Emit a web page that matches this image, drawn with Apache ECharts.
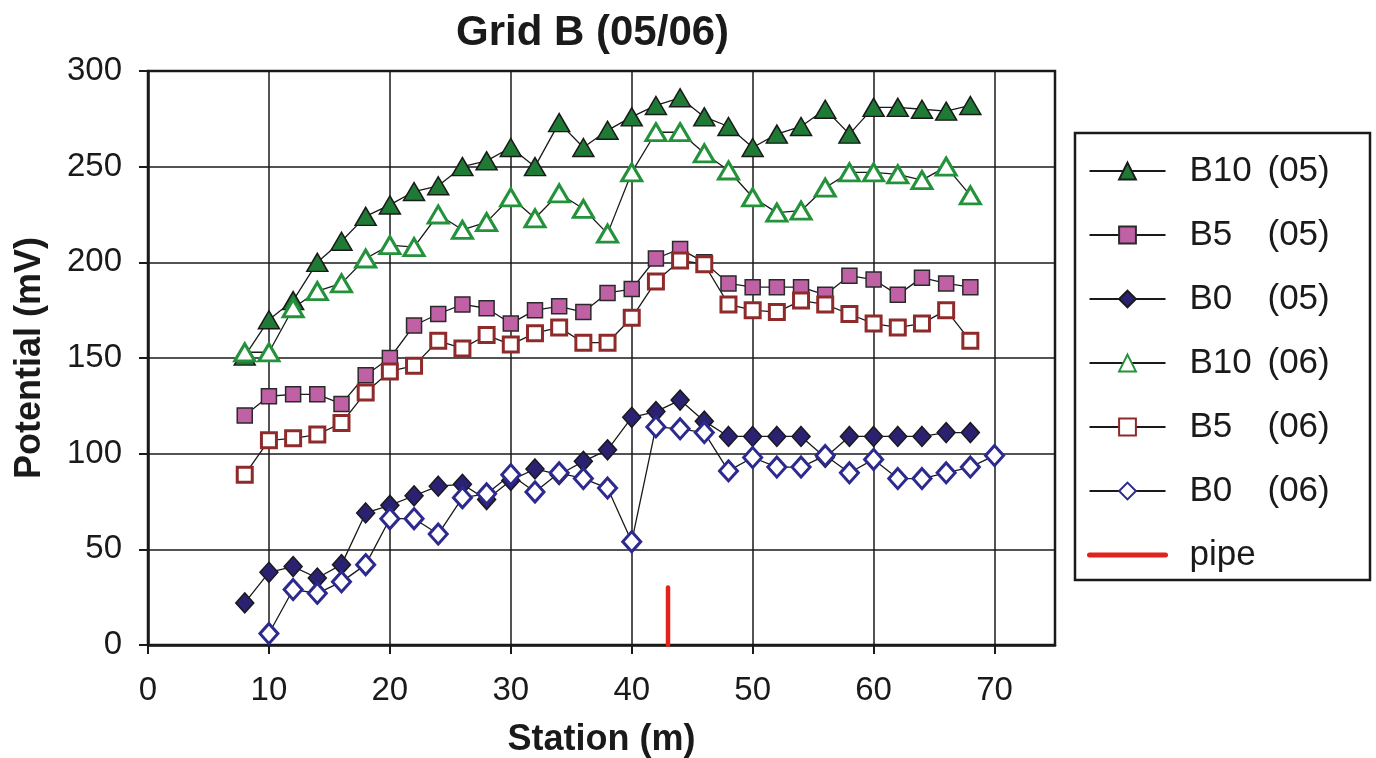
<!DOCTYPE html>
<html>
<head>
<meta charset="utf-8">
<script src="https://cdn.jsdelivr.net/npm/echarts@6/dist/echarts.min.js"></script>
<style>
  html, body { margin: 0; padding: 0; background: #fff; }
  #chart { width: 1376px; height: 758px; }
</style>
</head>
<body>
<div id="chart"></div>
<script>
// station positions (m)
var stations = [8, 10, 12, 14, 16, 18, 20, 22, 24, 26, 28, 30, 32, 34, 36, 38, 40, 42, 44, 46, 48, 50, 52, 54, 56, 58, 60, 62, 64, 66, 68];
var stationsB0_06 = [10, 12, 14, 16, 18, 20, 22, 24, 26, 28, 30, 32, 34, 36, 38, 40, 42, 44, 46, 48, 50, 52, 54, 56, 58, 60, 62, 64, 66, 68, 70];

// potentials (mV)
var b10_05 = [151, 170, 180, 200, 211, 224, 230, 237, 240, 250, 253, 260, 250, 273, 260, 269, 276, 282, 286, 276, 271, 260, 267, 271, 280, 267, 281, 281, 280, 279, 282];
var b5_05 = [120, 130, 131, 131, 126, 141, 150, 167, 173, 178, 176, 168, 175, 177, 174, 184, 186, 202, 207, 200, 189, 187, 187, 187, 183, 193, 191, 183, 192, 189, 187];
var b0_05 = [22, 38, 41, 35, 42, 69, 73, 78, 83, 84, 76, 86, 92, 89, 96, 102, 119, 122, 128, 117, 109, 109, 109, 109, 98, 109, 109, 109, 109, 111, 111];
var b10_06 = [153, 153, 176, 185, 189, 202, 209, 208, 225, 217, 221, 234, 223, 236, 228, 215, 247, 268, 268, 257, 248, 234, 226, 227, 239, 247, 247, 246, 243, 250, 235];
var b5_06 = [89, 107, 108, 110, 116, 132, 143, 146, 159, 155, 162, 157, 163, 166, 158, 158, 171, 190, 201, 199, 178, 175, 174, 180, 178, 173, 168, 166, 168, 175, 159];
var b0_06 = [6, 29, 27, 33, 42, 66, 66, 58, 77, 79, 89, 80, 90, 87, 82, 54, 114, 113, 111, 91, 98, 93, 93, 99, 90, 97, 87, 87, 90, 93, 99];

// pipe location
var pipeX = [43, 43];
var pipeY = [0, 30];

var xTicks = [0, 10, 20, 30, 40, 50, 60, 70];

function pairs(xs, ys) {
	return xs.map(function (x, i) { return [x, ys[i]]; });
}

function markerSeries(name, xs, ys, symbol, size, fill, border, borderWidth) {
	return {
		name: name,
		type: 'line',
		data: pairs(xs, ys),
		symbol: symbol,
		symbolSize: size,
		showAllSymbol: true,
		lineStyle: { color: '#1a1a1a', width: 1.3 },
		itemStyle: { color: fill, borderColor: border, borderWidth: borderWidth },
		emphasis: { disabled: true },
		z: 3
	};
}

var chart = echarts.init(document.getElementById('chart'), null, { renderer: 'canvas' });

var font = 'Liberation Sans, Arial, sans-serif';

var option = {
	animation: false,
	textStyle: { fontFamily: font },
	grid: {
		left: 148,
		top: 71,
		right: 321,
		bottom: 113,
		outerBoundsMode: 'none',
		show: true,
		borderColor: '#1a1a1a',
		borderWidth: 2.5,
		backgroundColor: 'transparent'
	},
	graphic: [
		{
			type: 'text',
			left: 456,
			top: 12,
			style: {
				text: 'Grid B (05/06)',
				font: 'bold 42px ' + font,
				fill: '#1a1a1a'
			}
		},
		{
			type: 'rect',
			shape: { x: 1075, y: 133, width: 295, height: 447 },
			style: { fill: 'none', stroke: '#1a1a1a', lineWidth: 2.5 },
			z: 1
		}
	],
	legend: {
		orient: 'vertical',
		left: 1082,
		top: 148,
		itemWidth: 76,
		itemHeight: 21,
		itemGap: 28,
		selectedMode: false,
		data: ['B10 (05)', 'B5 (05)', 'B0 (05)', 'B10 (06)', 'B5 (06)', 'B0 (06)',
			{ name: 'pipe', itemStyle: { opacity: 0 }, lineStyle: { color: '#e0231b', width: 5, cap: 'round' } }],
		formatter: function (n) {
			var parts = n.split(' ');
			if (parts.length < 2) return '{a|' + n + '}';
			return '{a|' + parts[0] + '}{b|' + parts[1] + '}';
		},
		textStyle: {
			fontSize: 35,
			lineHeight: 36,
			color: '#1a1a1a',
			padding: [0, 0, 0, 19],
			rich: {
				a: { fontSize: 35, width: 78, lineHeight: 36, color: '#1a1a1a' },
				b: { fontSize: 35, lineHeight: 36, color: '#1a1a1a' }
			}
		}
	},
	xAxis: {
		type: 'value',
		min: 0,
		max: 75,
		interval: 10,
		name: 'Station (m)',
		nameLocation: 'middle',
		nameGap: 77,
		nameTextStyle: { fontSize: 36, fontWeight: 'bold', color: '#1a1a1a' },
		axisLine: { show: true, lineStyle: { color: '#1a1a1a', width: 2.5 } },
		axisTick: { show: true, inside: false, length: 9, customValues: xTicks, lineStyle: { color: '#1a1a1a', width: 2 } },
		axisLabel: { customValues: xTicks, fontSize: 33, color: '#1a1a1a', margin: 29 },
		splitLine: { show: true, lineStyle: { color: '#1a1a1a', width: 1.5 } }
	},
	yAxis: {
		type: 'value',
		min: 0,
		max: 300,
		interval: 50,
		name: 'Potential (mV)',
		nameLocation: 'middle',
		nameGap: 100,
		nameTextStyle: { fontSize: 36, fontWeight: 'bold', color: '#1a1a1a' },
		axisLine: { show: true, lineStyle: { color: '#1a1a1a', width: 2.5 } },
		axisTick: { show: true, inside: false, length: 9, lineStyle: { color: '#1a1a1a', width: 2 } },
		axisLabel: { fontSize: 33, color: '#1a1a1a', margin: 26 },
		splitLine: { show: true, lineStyle: { color: '#1a1a1a', width: 1.5 } }
	},
	series: [
		markerSeries('B10 (05)', stations, b10_05, 'triangle', [21, 18], '#1f7a35', '#1a1a1a', 1.5),
		markerSeries('B5 (05)', stations, b5_05, 'rect', [15, 15], '#c061a6', '#2a2a2a', 1.5),
		markerSeries('B0 (05)', stations, b0_05, 'diamond', [18, 20], '#2a2170', '#1a1a1a', 1.5),
		markerSeries('B10 (06)', stations, b10_06, 'triangle', [20, 17], '#ffffff', '#23923b', 3),
		markerSeries('B5 (06)', stations, b5_06, 'rect', [15, 15], '#ffffff', '#8e2a2a', 3),
		markerSeries('B0 (06)', stationsB0_06, b0_06, 'diamond', [18, 20], '#ffffff', '#2d2a8f', 3),
		{
			name: 'pipe',
			type: 'line',
			data: pairs(pipeX, pipeY),
			symbol: 'none',
			lineStyle: { color: '#e0231b', width: 4.5, cap: 'round' },
			itemStyle: { color: '#e0231b' },
			emphasis: { disabled: true },
			z: 4
		}
	]
};

chart.setOption(option);
</script>
</body>
</html>
